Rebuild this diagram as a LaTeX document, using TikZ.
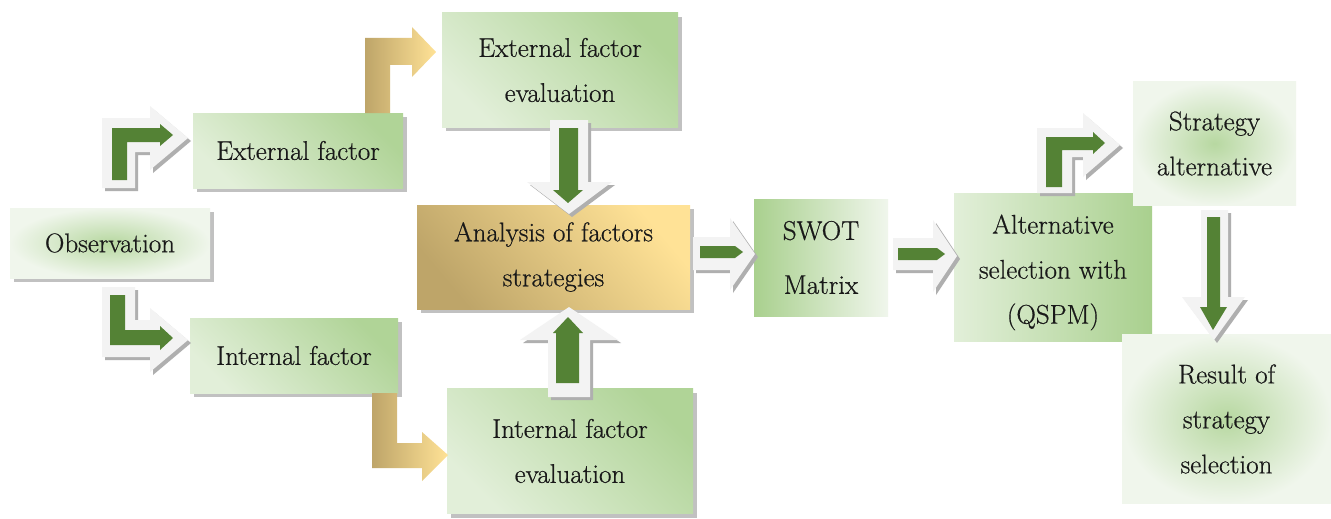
\documentclass[tikz,border=0pt]{standalone}
\usepackage{fontspec}
\setmainfont{Latin Modern Roman}[FakeBold=0.6]
\usetikzlibrary{shadows}
\definecolor{garrow}{RGB}{84,130,53}
\definecolor{gdark}{RGB}{169,208,142}
\definecolor{glight}{RGB}{226,239,217}
\definecolor{gpale}{RGB}{240,246,236}
\definecolor{golddark}{RGB}{190,165,105}
\definecolor{goldlight}{RGB}{255,226,150}
\definecolor{warrow}{RGB}{243,243,243}
\definecolor{wshadow}{RGB}{175,175,175}
\definecolor{txtcol}{RGB}{25,25,25}
\tikzset{
  lbl/.style={font=\fontsize{27}{45}\selectfont, text=txtcol, align=center, inner sep=0pt},
  shadowed/.style={drop shadow={shadow xshift=4pt, shadow yshift=-4pt, fill=black!40, opacity=0.6}},
  diagbox/.style={lbl, top color=gdark!90!gpale, middle color=gpale, bottom color=glight, shading angle=-45},
  radbox/.style={lbl, inner color=gdark!75!glight, outer color=gpale},
  goldbox/.style={lbl, top color=goldlight, middle color=goldlight!90!golddark, bottom color=golddark, shading angle=-50},
  wsh/.style={fill=wshadow, xshift=3pt, yshift=-3pt},
  wbody/.style={fill=warrow},
  gbody/.style={fill=garrow},
  goldarrow/.style={left color=golddark, right color=goldlight}
}
\newcommand\wArrow[2]{\fill[wsh] #1; \fill[wbody] #1; \fill[gbody] #2;}
\begin{document}
\begin{tikzpicture}[x=1pt,y=-1pt]
\useasboundingbox (0,0) rectangle (1331,519);
\fill[white] (0,0) rectangle (1331,519);

% boxes
\node[radbox, shadowed, minimum width=200pt, minimum height=70pt] (obs) at (110,243) {Observation};
\node[diagbox, shadowed, minimum width=210pt, minimum height=75pt] (ext) at (298,150.5) {External factor};
\node[diagbox, shadowed, minimum width=208pt, minimum height=75pt] (int) at (294,355.5) {Internal factor};
\node[diagbox, shadowed, minimum width=236pt, minimum height=114pt] (efe) at (560,70) {External factor\\evaluation};
\node[goldbox, shadowed, minimum width=273pt, minimum height=104pt] (ana) at (553.5,257) {Analysis of factors\\strategies};
\node[diagbox, shadowed, minimum width=246pt, minimum height=125pt] (ife) at (570,451) {Internal factor\\evaluation};
\node[lbl, left color=gdark, right color=gpale, minimum width=134pt, minimum height=117pt] (swot) at (821,257.5) {SWOT\\[9pt]Matrix};
\node[lbl, left color=glight, right color=gdark, minimum width=198pt, minimum height=148pt] (qspm) at (1053,267) {\rule{0pt}{30pt}Alternative\\selection with\\(QSPM)};
\node[radbox, minimum width=163pt, minimum height=123pt] (salt) at (1214.5,143.5) {Strategy\\alternative};
\node[radbox, minimum width=209pt, minimum height=169pt] (res) at (1226.5,419) {Result of\\strategy\\selection};

% gold bent arrows
\shade[goldarrow] (365,113) -- (365,38) -- (412,38) -- (412,27) -- (436,52) -- (412,77) -- (412,65) -- (390,65) -- (390,113) -- cycle;
\shade[goldarrow] (372,393) -- (397,393) -- (397,443) -- (422,443) -- (422,432) -- (448,455) -- (422,481) -- (422,468) -- (372,468) -- cycle;

% observation -> external factor
\wArrow{(102,188) -- (102,118) -- (150,118) -- (150,106) -- (188,138) -- (150,170) -- (150,152) -- (135,152) -- (135,188) -- cycle}
       {(112,180) -- (112,128) -- (160,128) -- (160,124) -- (173,135) -- (160,146) -- (160,142) -- (127,142) -- (127,180) -- cycle}
% observation -> internal factor
\wArrow{(102,287) -- (135,287) -- (135,320) -- (150,320) -- (150,308) -- (188,340) -- (150,372) -- (150,357) -- (102,357) -- cycle}
       {(110,295) -- (125,295) -- (125,330) -- (160,330) -- (160,326) -- (173,338) -- (160,350) -- (160,345) -- (110,345) -- cycle}
% efe -> analysis
\wArrow{(550,120) -- (588,120) -- (588,182) -- (612,182) -- (569,214) -- (527,182) -- (550,182) -- cycle}
       {(559,128) -- (578,128) -- (578,190) -- (583,190) -- (568,203) -- (553,190) -- (559,190) -- cycle}
% ife -> analysis
\wArrow{(548,397) -- (548,340) -- (520,340) -- (569,307) -- (618,340) -- (590,340) -- (590,397) -- cycle}
       {(556,383) -- (556,333) -- (553,333) -- (568,317) -- (583,333) -- (579,333) -- (579,383) -- cycle}
% analysis -> swot
\wArrow{(693,237) -- (730,237) -- (730,218) -- (755,254) -- (730,290) -- (730,270) -- (693,270) -- cycle}
       {(700,246) -- (735,246) -- (743,252) -- (735,258) -- (700,258) -- cycle}
% swot -> qspm
\wArrow{(893,238) -- (933,238) -- (933,220) -- (957,256) -- (933,292) -- (933,270) -- (893,270) -- cycle}
       {(898,248) -- (937,248) -- (945,254) -- (937,260) -- (898,260) -- cycle}
% qspm -> strategy alternative
\wArrow{(1037,193) -- (1037,128) -- (1083,128) -- (1083,113) -- (1120,145) -- (1083,177) -- (1083,157) -- (1072,157) -- (1072,193) -- cycle}
       {(1046,187) -- (1046,137) -- (1093,137) -- (1093,132) -- (1105,143) -- (1093,154) -- (1093,150) -- (1062,150) -- (1062,187) -- cycle}
% strategy alternative -> result
\wArrow{(1201,210) -- (1228,210) -- (1228,297) -- (1245,297) -- (1214,340) -- (1182,297) -- (1201,297) -- cycle}
       {(1207,217) -- (1220,217) -- (1220,307) -- (1227,307) -- (1213,330) -- (1200,307) -- (1207,307) -- cycle}
\end{tikzpicture}
\end{document}
